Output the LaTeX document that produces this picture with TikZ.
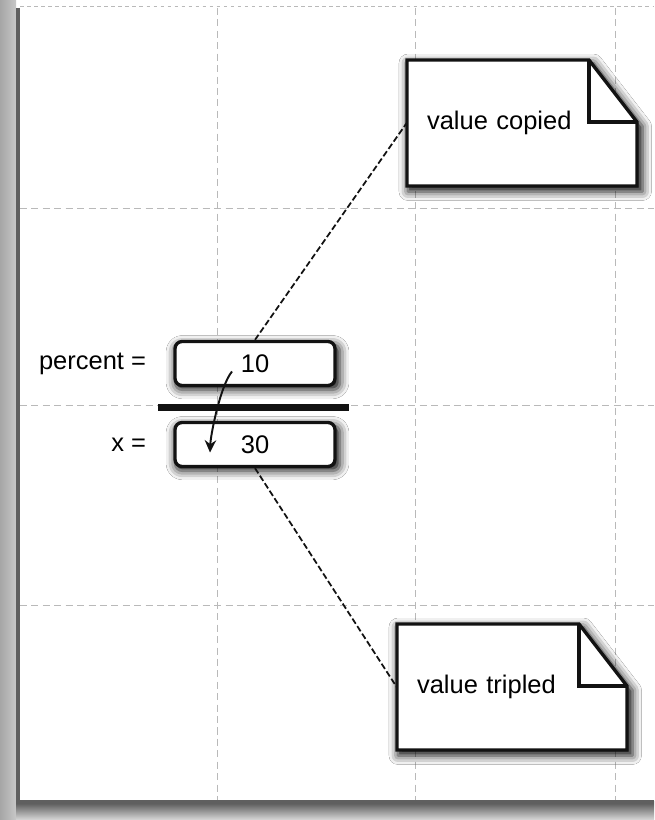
\documentclass[tikz,border=0pt]{standalone}
\usepackage{fontspec}
\setmainfont{Liberation Sans}
\usetikzlibrary{arrows.meta, positioning, calc, shadows.blur}
\definecolor{ink}{RGB}{18, 18, 18}
\definecolor{gridline}{RGB}{185, 185, 185}
\definecolor{paperedge}{RGB}{95, 95, 95}

\begin{document}
\begin{tikzpicture}[x=0.02cm, y=-0.02cm, font=\fontsize{14.5}{17}\selectfont,
        cell/.style={rectangle, rounded corners=4pt, draw=ink, line width=1.9pt, fill=white,
                     minimum width=3.2cm, minimum height=0.88cm, inner sep=0pt,
                     blur shadow={shadow xshift=1.4pt, shadow yshift=-2pt, shadow scale=1.03,
                                  shadow blur radius=5pt, shadow opacity=95}},
        varname/.style={inner sep=0pt},
        note/.style={rectangle, minimum width=4.6cm, minimum height=2.52cm, text width=3.8cm,
                     align=left, inner sep=0.4cm},
        notebody/.style={draw=ink, line width=1.9pt, fill=white, line join=miter,
                     blur shadow={shadow xshift=1.8pt, shadow yshift=-2.4pt, shadow scale=1.02,
                                  shadow blur radius=5pt, shadow opacity=95}},
        notefold/.style={draw=ink, line width=1.9pt},
        guide/.style={draw=gridline, line width=0.5pt, dash pattern=on 4pt off 2.5pt},
        callout/.style={draw=ink, line width=1pt, dash pattern=on 3.5pt off 1.6pt},
        copyarrow/.style={draw=ink, line width=1.1pt, -{Stealth[length=7pt, width=6.5pt]}},
        bar/.style={draw=ink, line width=4pt}
    ]
        \useasboundingbox (0,0) rectangle (654,820);
        \fill[white] (0,0) rectangle (654,820);
        \shade[left color=black!35, right color=black!22] (0,0) rectangle (16,820);
        \shade[top color=black!70, bottom color=black!15] (16,801) rectangle (654,820);
        \draw[paperedge, line width=2.5pt] (18,8) -- (18,802) -- (654,802);
        \draw[gridline, line width=0.5pt, dash pattern=on 2pt off 2pt] (20,6) -- (654,6);

        \foreach \gx in {217,415,615}
            \draw[guide] (\gx,8) -- (\gx,800);
        \foreach \gy in {208,405,605}
            \draw[guide] (20,\gy) -- (654,\gy);

        \foreach \nm/\cx/\cy/\txt in {copied/522/123/value copied, tripled/512/687/value tripled} {
            \draw[notebody] ({\cx-115},{\cy-63}) -- ({\cx+67},{\cy-63}) -- ({\cx+115},{\cy-1})
                -- ({\cx+115},{\cy+63}) -- ({\cx-115},{\cy+63}) -- cycle;
            \draw[notefold] ({\cx+67},{\cy-63}) |- ({\cx+115},{\cy-1});
            \node[note] (\nm) at (\cx,\cy) {\txt};
        }

        \node[cell] (pct) at (255,363.5) {10};
        \node[cell] (xv) at (255,444.5) {30};
        \node[varname, left=0.54cm of pct] (pctname) {percent =};
        \node[varname, left=0.54cm of xv] (xname) {x =};

        \draw[bar] ($(pct.south west)+(-15,20)$) -- ($(pct.south east)+(12,20)$);

        \coordinate (src) at ($(pct.center)+(-23,8)$);
        \coordinate (dst) at ($(xv.center)+(-45,8)$);
        \draw[copyarrow] (src) to[out=-130, in=88, looseness=0.55] (dst);

        \draw[callout] (pct.north) -- (copied.west);
        \draw[callout] (xv.south) -- (tripled.west);
    \end{tikzpicture}
\end{document}
